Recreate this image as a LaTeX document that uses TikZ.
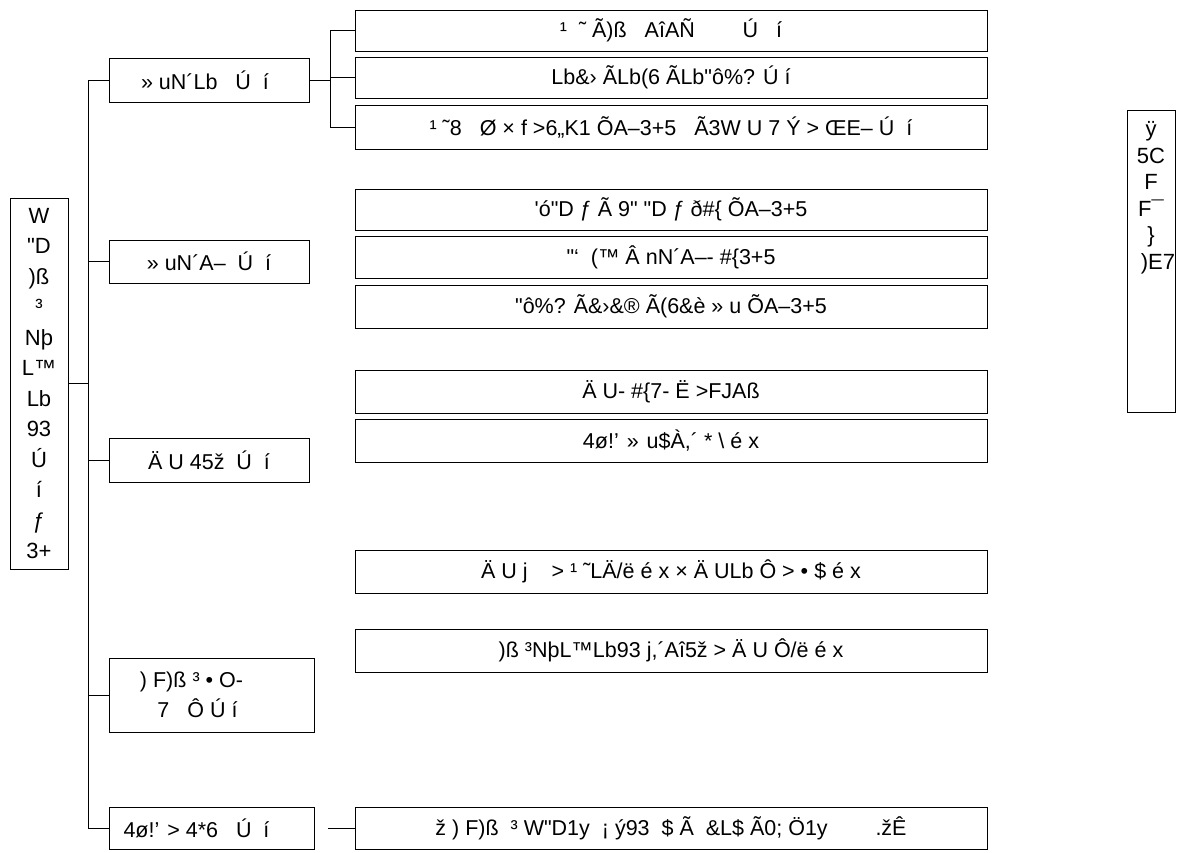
\documentclass[tikz,border=0pt]{standalone}
\usepackage{fontspec}
\newfontfamily\df{Liberation Sans}
\begin{document}
\begin{tikzpicture}[x=1pt,y=-1pt,
  box/.style={draw, line width=0.9pt, inner sep=0pt, align=center,
    font=\df\fontsize{21.5}{30}\selectfont},
  link/.style={line width=0.9pt}]
\useasboundingbox (0,0) rectangle (1183,852);
% root
\node[box, minimum width=58pt, minimum height=371pt, font=\df\fontsize{22}{30.5}\selectfont] (root) at (39,383.5)
  {W\\"D\\)ß\\³\\Nþ\\L™\\Lb\\93\\Ú\\í\\ƒ\\3+};
% level 1
\node[box, minimum width=200pt, minimum height=44pt] (b1) at (209,80) {» uN´Lb\ \ \ Ú\ \ í\hspace{8pt}};
\node[box, minimum width=200pt, minimum height=43pt] (b2) at (209,261.5) {» uN´A–\ \ Ú\ \ í};
\node[box, minimum width=200pt, minimum height=44pt] (b3) at (209,460) {Ä U 45ž\ \ Ú\ \ í};
\node[box, minimum width=205pt, minimum height=74pt] (b4) at (211.5,695) {) F)ß ³ • O-\hspace*{40pt}\\7\ \ \ Ô Ú í\hspace*{28pt}};
\node[box, minimum width=205pt, minimum height=42pt] (b5) at (211.5,828) {4ø!’ > 4*6\ \ \ Ú\ \ í\hspace{30pt}};
% level 2
\node[box, minimum width=632pt, minimum height=41pt] (c1) at (671,30.5) {¹\ \ ˜ Ã)ß\ \ \ AîAÑ\ \ \ \ \ \ \ \ Ú\ \ \ í};
\node[box, minimum width=632pt, minimum height=41pt] (c2) at (671,77.5) {Lb\&› ÃLb(6 ÃLb"ô\%? Ú í};
\node[box, minimum width=632pt, minimum height=44pt] (c3) at (671,127) {¹ ˜8\ \ \ Ø\ × f >6„K1 ÕA–3+5\ \ \ Ã3W\ U\ 7\ Ý\ >\ ŒE–\ Ú\ \ í};
\node[box, minimum width=632pt, minimum height=41pt] (d1) at (671,209.5) {'ó"D ƒ Ã 9" "D ƒ ð\#\{ ÕA–3+5};
\node[box, minimum width=632pt, minimum height=42pt] (d2) at (671,257) {"‘\ \ (™ Â nN´A–- \#\{3+5};
\node[box, minimum width=632pt, minimum height=43pt] (d3) at (671,306.5) {"ô\%? Ã\&›\&® Ã(6\&è » u ÕA–3+5};
\node[box, minimum width=632pt, minimum height=43pt] (e1) at (671,391.5) {Ä U- \#\{7- Ë >FJAß};
\node[box, minimum width=632pt, minimum height=43pt] (e2) at (671,440.5) {4ø!’ » u\$À,´ * \textbackslash\ é x};
\node[box, minimum width=632pt, minimum height=43pt] (g1) at (671,571.5) {Ä U j\ \ \ \ > ¹ ˜LÄ/ë\ é\ x × Ä\ ULb\ Ô >\ • \$\ é\ x};
\node[box, minimum width=632pt, minimum height=43pt] (g2) at (671,650.5) {)ß ³NþL™Lb93 j,´Aî5ž > Ä U Ô/ë\ é\ x};
\node[box, minimum width=632pt, minimum height=42pt] (f1) at (671,828) {ž\ )\ F)ß\ \ ³\ W"D1y\ \ ¡\ ý93\ \ \$\ Ã\ \ \&L\$\ Ã0;\ Ö1y\ \ \ \ \ \ \ \ .žÊ};
% right box
\node[draw, line width=0.9pt, minimum width=48pt, minimum height=302pt, inner sep=0pt] (r) at (1151,261) {};
\begin{scope}
\clip (r.south west) rectangle (r.north east);
\node[inner sep=0pt, align=center, anchor=north, font=\df\fontsize{22}{26.5}\selectfont] (rt) at ([yshift=-12pt]r.north)
  {ÿ\\5C\\F\\F¯\\\}\\\hspace*{14pt})E7};
\end{scope}
% connectors
\coordinate (tt) at (88,80);
\coordinate (tb) at (88,828);
\draw[link] (tt) -- (tb);
\draw[link] (root.east) -- (root.east -| tt);
\foreach \n in {b1,b2,b3,b4,b5}{\draw[link] (\n.west) -- (\n.west -| tt);}
\coordinate (cb) at (330,80);
\draw[link] (b1.east) -- (cb);
\draw[link] (c1.west -| cb) -- (c3.west -| cb);
\foreach \n in {c1,c2,c3}{\draw[link] (\n.west -| cb) -- (\n.west);}
\coordinate (fb) at (328,828);
\draw[link] (fb) -- (f1.west);
\end{tikzpicture}
\end{document}
